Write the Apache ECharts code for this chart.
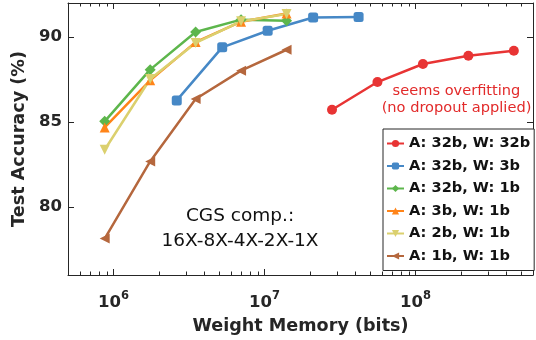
<!DOCTYPE html>
<html><head><meta charset="utf-8">
<script src="https://cdn.jsdelivr.net/npm/echarts@6/dist/echarts.min.js"></script>
<style>html,body{margin:0;padding:0;background:#fff}#c{width:536px;height:340px}</style>
</head><body><div id="c"></div>
<script>
// ---- data ----
const seriesNames = ['A: 32b, W: 32b', 'A: 32b, W: 3b', 'A: 32b, W: 1b', 'A: 3b, W: 1b', 'A: 2b, W: 1b', 'A: 1b, W: 1b'];
const memRed = [2.8e7, 5.6e7, 1.12e8, 2.24e8, 4.48e8];
const accRed = [85.72, 87.35, 88.41, 88.9, 89.19];
const memBlue = [2.625e6, 5.25e6, 1.05e7, 2.1e7, 4.2e7];
const accBlue = [86.27, 89.39, 90.37, 91.15, 91.18];
const memBin = [8.75e5, 1.75e6, 3.5e6, 7e6, 1.4e7];
const accGreen = [85.04, 88.08, 90.29, 91.02, 90.96];
const accOrange = [84.68, 87.45, 89.7, 90.9, 91.38];
const accYellow = [83.37, 87.53, 89.65, 90.92, 91.35];
const accBrown = [78.14, 82.68, 86.35, 88.02, 89.25];
const xMin = 5e5, xMax = 6e8, yMin = 76, yMax = 92;
const yTickLabels = [80, 85, 90];
const minorTickValues = [6e5, 7e5, 8e5, 9e5,
  2e6, 3e6, 4e6, 5e6, 6e6, 7e6, 8e6, 9e6,
  2e7, 3e7, 4e7, 5e7, 6e7, 7e7, 8e7, 9e7,
  2e8, 3e8, 4e8, 5e8];

const FONT = 'DejaVu Sans';
const AX = '#262626';
const colors = ['#e83434', '#4688c6', '#5db64c', '#ff8419', '#dbd06e', '#b5673d'];
const symbols = ['circle', 'roundRect', 'diamond', 'triangle', 'triangle', 'triangle'];
const rotates = [0, 0, 0, 0, 180, 90];
const sizes = [10, 10, 11, 10, 10, 10];
const xs = [memRed, memBlue, memBin, memBin, memBin, memBin];
const ys = [accRed, accBlue, accGreen, accOrange, accYellow, accBrown];

const chart = echarts.init(document.getElementById('c'), null, {renderer: 'canvas'});

const lineSeries = seriesNames.map((n, i) => ({
  name: n, type: 'line',
  data: xs[i].map((x, j) => [x, ys[i][j]]),
  symbol: symbols[i], symbolSize: sizes[i], symbolRotate: rotates[i],
  lineStyle: {color: colors[i], width: 2.5},
  itemStyle: {color: colors[i]},
  emphasis: {disabled: true}, animation: false, z: 3
}));

const minorSeries = {
  type: 'custom', name: 'minor', silent: true, animation: false, clip: false, z: 4,
  data: minorTickValues.map(v => [v, yMin]),
  encode: {x: 0, y: 1},
  renderItem: function (params, api) {
    const v = api.value(0);
    const pb = api.coord([v, yMin]);
    const pt = api.coord([v, yMax]);
    const x = Math.round(pb[0]) + 0.5;
    return {type: 'group', children: [
      {type: 'line', shape: {x1: x, y1: pb[1], x2: x, y2: pb[1] - 3.5}, style: {stroke: AX, lineWidth: 1}},
      {type: 'line', shape: {x1: x, y1: pt[1], x2: x, y2: pt[1] + 3.5}, style: {stroke: AX, lineWidth: 1}}
    ]};
  }
};

const xFmt = v => {
  const l = Math.log10(v), e = Math.round(l);
  if (Math.abs(l - e) > 1e-6) return '';
  return '{b|10}{s|' + e + '}';
};
const yFmt = v => (yTickLabels.indexOf(Math.round(v * 1000) / 1000) >= 0 ? String(v) : '');

const option = {
  animation: false,
  backgroundColor: '#fff',
  grid: {left: 68, top: 3, width: 469, height: 272, containLabel: false},
  xAxis: [{
    type: 'log', logBase: 10, min: xMin, max: xMax, position: 'bottom',
    axisLine: {show: true, onZero: false, lineStyle: {color: AX, width: 1}},
    axisTick: {show: true, inside: true, length: 6, lineStyle: {color: AX}},
    splitLine: {show: false}, minorTick: {show: false}, minorSplitLine: {show: false},
    axisLabel: {
      margin: 15, formatter: xFmt, color: AX,
      rich: {
        b: {fontSize: 16.5, fontWeight: 'bold', color: AX, fontFamily: FONT, lineHeight: 21, verticalAlign: 'bottom'},
        s: {fontSize: 11.5, fontWeight: 'bold', color: AX, fontFamily: FONT, lineHeight: 11, verticalAlign: 'top'}
      }
    },
    name: 'Weight Memory (bits)', nameLocation: 'middle', nameGap: 42,
    nameTextStyle: {fontSize: 17.6, fontWeight: 'bold', color: AX, fontFamily: FONT}
  }, {
    type: 'log', logBase: 10, min: xMin, max: xMax, position: 'top',
    axisLine: {show: true, onZero: false, lineStyle: {color: AX, width: 1}},
    axisTick: {show: true, inside: true, length: 6, lineStyle: {color: AX}},
    axisLabel: {show: false}, splitLine: {show: false}
  }],
  yAxis: [{
    type: 'value', min: yMin, max: yMax, splitNumber: 3, position: 'left',
    axisLine: {show: true, onZero: false, lineStyle: {color: AX, width: 1}},
    axisTick: {show: true, inside: true, length: 6, lineStyle: {color: AX}},
    splitLine: {show: false},
    axisLabel: {margin: 6, formatter: yFmt, fontSize: 16.5, fontWeight: 'bold', color: AX, fontFamily: FONT},
    name: 'Test Accuracy (%)', nameLocation: 'middle', nameGap: 29,
    nameTextStyle: {fontSize: 17.6, fontWeight: 'bold', color: AX, fontFamily: FONT}
  }, {
    type: 'value', min: yMin, max: yMax, splitNumber: 3, position: 'right',
    axisLine: {show: true, onZero: false, lineStyle: {color: AX, width: 1}},
    axisTick: {show: true, inside: true, length: 6, lineStyle: {color: AX}},
    splitLine: {show: false}, axisLabel: {show: false}
  }],
  legend: {
    data: seriesNames, orient: 'vertical', left: 383, top: 129,
    padding: [5, 4, 5, 3], itemGap: 3.5, itemWidth: 17, itemHeight: 9,
    backgroundColor: '#fff', borderColor: AX, borderWidth: 1,
    textStyle: {fontSize: 14.6, fontWeight: 'bold', color: '#111', fontFamily: FONT, lineHeight: 19},
    selectedMode: false
  },
  graphic: [{
    type: 'text', left: null, x: 240, y: 229, silent: true, z: 10,
    style: {text: 'CGS comp.:\n16X-8X-4X-2X-1X', fontSize: 18.5, fontFamily: FONT, fill: '#111',
      align: 'center', verticalAlign: 'middle', lineHeight: 25}
  }, {
    type: 'text', x: 456.5, y: 99.7, silent: true, z: 10,
    style: {text: 'seems overfitting\n(no dropout applied)', fontSize: 14.6, fontFamily: FONT, fill: '#e22a2a',
      align: 'center', verticalAlign: 'middle', lineHeight: 17.3}
  }],
  series: lineSeries.concat([minorSeries])
};
chart.setOption(option);
</script>
</body></html>
